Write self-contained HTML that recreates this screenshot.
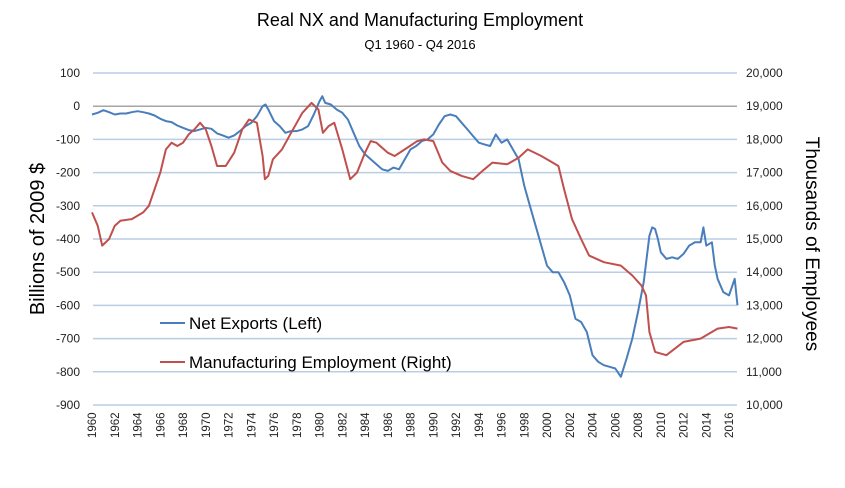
<!DOCTYPE html>
<html><head><meta charset="utf-8"><style>
body{margin:0;background:#fff;font-family:"Liberation Sans",sans-serif}
svg{display:block}
</style></head><body>
<svg id="c" width="845" height="488" font-family="Liberation Sans, sans-serif">
<text x="420" y="26" text-anchor="middle" font-size="18" fill="#000">Real NX and Manufacturing Employment</text>
<text x="420" y="49" text-anchor="middle" font-size="13" fill="#000">Q1 1960 - Q4 2016</text>
<text transform="translate(44,239) rotate(-90)" text-anchor="middle" font-size="20">Billions of 2009 $</text>
<text transform="translate(806,244) rotate(90)" text-anchor="middle" font-size="19">Thousands of Employees</text>
<g id="grid"></g><g id="ticks"></g><g id="series"></g>
<g>
<line x1="160" y1="323" x2="185" y2="323" stroke="#4a7ebb" stroke-width="2"/>
<text x="189" y="329" font-size="17">Net Exports (Left)</text>
<line x1="160" y1="362" x2="185" y2="362" stroke="#c0504d" stroke-width="2"/>
<text x="189" y="368" font-size="17">Manufacturing Employment (Right)</text>
</g>
</svg>
<script>
const nxYears=[1960,1960.5,1961,1961.5,1962,1962.5,1963,1963.5,1964,1964.5,1965,1965.5,1966,1966.5,1967,1967.5,1968,1968.5,1969,1969.5,1970,1970.5,1971,1971.5,1972,1972.5,1973,1973.5,1974,1974.5,1975,1975.25,1975.5,1976,1976.5,1977,1977.5,1978,1978.5,1979,1979.5,1980,1980.25,1980.5,1981,1981.5,1982,1982.5,1983,1983.5,1984,1984.5,1985,1985.5,1986,1986.5,1987,1987.5,1988,1988.5,1989,1989.5,1990,1990.5,1991,1991.5,1992,1992.5,1993,1993.5,1994,1994.5,1995,1995.5,1996,1996.5,1997,1997.5,1998,1998.5,1999,1999.5,2000,2000.5,2001,2001.5,2002,2002.5,2003,2003.5,2004,2004.5,2005,2005.5,2006,2006.5,2007,2007.5,2008,2008.5,2009,2009.25,2009.5,2009.75,2010,2010.5,2011,2011.5,2012,2012.5,2013,2013.5,2013.75,2014,2014.5,2014.75,2015,2015.5,2016,2016.5,2016.75];
const nxValues=[-25,-20,-12,-18,-25,-22,-22,-18,-15,-18,-22,-28,-38,-45,-48,-58,-65,-72,-75,-70,-65,-68,-82,-88,-95,-88,-75,-60,-50,-30,0,5,-10,-45,-60,-80,-75,-75,-70,-60,-25,15,30,10,5,-10,-20,-40,-80,-120,-145,-160,-175,-190,-195,-185,-190,-160,-130,-120,-105,-100,-85,-55,-30,-25,-30,-50,-70,-90,-110,-115,-120,-85,-110,-100,-130,-160,-240,-300,-360,-420,-480,-500,-500,-530,-570,-640,-650,-680,-750,-770,-780,-785,-790,-815,-760,-700,-620,-530,-390,-365,-370,-400,-440,-460,-455,-460,-445,-420,-410,-410,-365,-420,-410,-480,-520,-560,-570,-520,-600];
const empYears=[1960,1960.5,1960.9,1961.5,1962,1962.5,1963.5,1964.5,1965,1965.5,1966,1966.5,1967,1967.5,1968,1968.5,1969,1969.5,1970,1970.5,1971,1971.75,1972.5,1973.2,1973.8,1974.5,1975,1975.2,1975.5,1975.9,1976.7,1977.5,1978.5,1979.3,1979.9,1980.3,1980.8,1981.3,1982,1982.7,1983.3,1984,1984.5,1985,1986,1986.6,1987.5,1988.6,1989.2,1990,1990.8,1991.5,1992.5,1993.5,1994.5,1995.2,1996.5,1997.5,1998.3,1999.5,2000.5,2001,2001.5,2002.2,2003,2003.7,2005,2006.5,2007.5,2008.3,2008.7,2009,2009.5,2010.5,2012,2013.5,2015,2016,2016.75];
const empValues=[15800,15400,14800,15000,15400,15550,15600,15800,16000,16500,17000,17700,17900,17800,17900,18150,18300,18500,18300,17800,17200,17200,17600,18300,18600,18500,17500,16800,16900,17400,17700,18200,18800,19100,18900,18200,18400,18500,17700,16800,17000,17600,17950,17900,17600,17500,17700,17950,18000,17950,17300,17050,16900,16800,17100,17300,17250,17450,17700,17500,17300,17200,16500,15600,15000,14500,14300,14200,13900,13600,13300,12200,11600,11500,11900,12000,12300,12350,12300];
const leftTicks=[100,0,-100,-200,-300,-400,-500,-600,-700,-800,-900];
const rightTicks=["20,000","19,000","18,000","17,000","16,000","15,000","14,000","13,000","12,000","11,000","10,000"];
const yearLabels=[1960,1962,1964,1966,1968,1970,1972,1974,1976,1978,1980,1982,1984,1986,1988,1990,1992,1994,1996,1998,2000,2002,2004,2006,2008,2010,2012,2014,2016];
const NS="http://www.w3.org/2000/svg";
const x=t=>92+11.375*(t-1960);
const yL=v=>73+(100-v)*0.332;
const yR=v=>73+(20000-v)*0.0332;
function mk(tag,attrs,parent){const e=document.createElementNS(NS,tag);for(const k in attrs)e.setAttribute(k,attrs[k]);parent.appendChild(e);return e;}
const grid=document.getElementById('grid'),ticks=document.getElementById('ticks'),ser=document.getElementById('series');
leftTicks.forEach((v,i)=>{
 const l=mk('line',{x1:93,x2:737,y1:yL(v),y2:yL(v),stroke:v===0?'#a6a6a6':'#b9cde5','stroke-width':1.5},grid);
 
 
 const t=mk('text',{x:80,y:yL(v)+4,'text-anchor':'end','font-size':12,fill:'#222'},ticks);t.textContent=v;
 
 
 const r=mk('text',{x:746,y:yL(v)+4,'font-size':12,fill:'#222'},ticks);r.textContent=rightTicks[i];
 
 
});
yearLabels.forEach(yr=>{
 const t=mk('text',{transform:`translate(${x(yr)+4},438) rotate(-90)`,'font-size':11.5,fill:'#222'},ticks);t.textContent=yr;
 
 
});
const d1=nxYears.map((t,i)=>(i?'L':'M')+x(t).toFixed(1)+','+yL(nxValues[i]).toFixed(1)).join('');
const p1=mk('path',{d:d1,fill:'none',stroke:'#4a7ebb','stroke-width':2,'stroke-linejoin':'round'},ser);


const d2=empYears.map((t,i)=>(i?'L':'M')+x(t).toFixed(1)+','+yR(empValues[i]).toFixed(1)).join('');
const p2=mk('path',{d:d2,fill:'none',stroke:'#c0504d','stroke-width':2,'stroke-linejoin':'round'},ser);


</script>
</body></html>
